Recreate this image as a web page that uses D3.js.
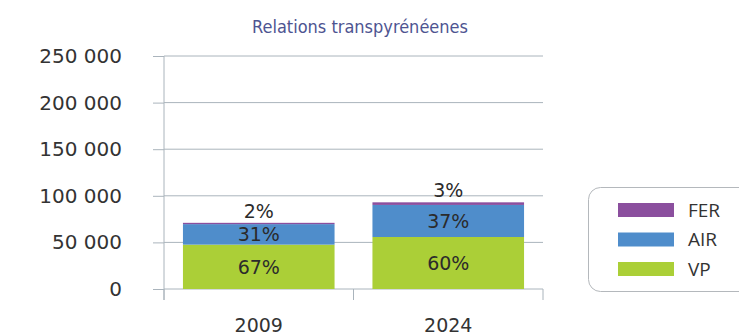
<!DOCTYPE html>
<html>
<head>
<meta charset="utf-8">
<script src="https://cdn.jsdelivr.net/npm/d3@7"></script>
<style>
  html, body { margin: 0; padding: 0; background: #fff; }
  svg { display: block; }
</style>
</head>
<body>
<svg id="chart" width="739" height="336"></svg>
<script>
// Passenger flows across the Pyrenees, by mode
const years = ["2009", "2024"];
const modes = ["VP", "AIR", "FER"];
const vpValues = [47600, 55800];
const airValues = [22000, 34400];
const ferValues = [1400, 2800];
const yTicks = [0, 50000, 100000, 150000, 200000, 250000];
const modeColors = { VP: "#abcf37", AIR: "#4f8dcb", FER: "#8b4f9e" };
const legendOrder = ["FER", "AIR", "VP"];
const title = "Relations transpyrénéenes";

const rows = years.map((yr, i) => ({ year: yr, VP: vpValues[i], AIR: airValues[i], FER: ferValues[i] }));

const svg = d3.select("#chart");
const plotLeft = 164, plotRight = 543, plotTop = 56, plotBottom = 289;

const x = d3.scaleBand().domain(years).range([plotLeft, plotRight]).paddingInner(0.2).paddingOuter(0.1);
const y = d3.scaleLinear().domain([0, 250000]).range([plotBottom, plotTop]);

const fmt = d3.formatLocale({ decimal: ",", thousands: " ", grouping: [3], currency: ["", " €"] }).format(",d");

// title
svg.append("text")
  .attr("x", 360).attr("y", 33)
  .attr("text-anchor", "middle")
  .attr("font-family", "'DejaVu Sans Condensed', 'DejaVu Sans'")
  .attr("font-stretch", "condensed")
  .attr("font-size", 18)
  .attr("fill", "#4e5491")
  .text(title);

const gridColor = "#aab4bc";

// horizontal gridlines
svg.append("g").selectAll("line").data(yTicks).join("line")
  .attr("x1", plotLeft).attr("x2", plotRight)
  .attr("y1", d => y(d)).attr("y2", d => y(d))
  .attr("stroke", gridColor).attr("stroke-width", 1);

// y axis
const yAxis = svg.append("g")
  .attr("transform", `translate(${plotLeft},0)`)
  .call(d3.axisLeft(y).tickValues(yTicks).tickSize(11).tickPadding(31).tickFormat(fmt));
yAxis.select(".domain").remove();
yAxis.selectAll(".tick line").attr("stroke", gridColor);
yAxis.selectAll(".tick text")
  .attr("font-family", "'DejaVu Sans'")
  .attr("font-size", 20)
  .attr("fill", "#333");
svg.append("line")
  .attr("x1", plotLeft).attr("x2", plotLeft).attr("y1", plotTop).attr("y2", plotBottom + 11)
  .attr("stroke", gridColor);

// x axis tick marks at band boundaries
const bounds = [plotLeft, ...years.slice(0, -1).map(d => x(d) + x.bandwidth() + x.step() * x.paddingInner() / 2), plotRight];
svg.append("g").selectAll("line").data(bounds).join("line")
  .attr("x1", d => d).attr("x2", d => d)
  .attr("y1", plotBottom).attr("y2", plotBottom + 11)
  .attr("stroke", gridColor);

// x labels
svg.append("g").selectAll("text").data(years).join("text")
  .attr("x", d => x(d) + x.bandwidth() / 2)
  .attr("y", 332)
  .attr("text-anchor", "middle")
  .attr("font-family", "'DejaVu Sans'")
  .attr("font-size", 19)
  .attr("fill", "#333")
  .text(d => d);

// stacked bars
const series = d3.stack().keys(modes)(rows);
svg.append("g").selectAll("g").data(series).join("g")
  .attr("fill", d => modeColors[d.key])
  .selectAll("rect").data(d => d).join("rect")
  .attr("x", d => x(d.data.year))
  .attr("width", x.bandwidth())
  .attr("y", d => y(d[1]))
  .attr("height", d => y(d[0]) - y(d[1]));

// percentage labels
const labels = [];
series.forEach(s => s.forEach(d => {
  const total = d.data.VP + d.data.AIR + d.data.FER;
  const pct = Math.round((d[1] - d[0]) / total * 100) + "%";
  const cy = s.key === "FER" ? y(d[1]) - 12 : (y(d[0]) + y(d[1])) / 2;
  labels.push({ x: x(d.data.year) + x.bandwidth() / 2, y: cy, text: pct });
}));
svg.append("g").selectAll("text").data(labels).join("text")
  .attr("x", d => d.x).attr("y", d => d.y)
  .attr("dy", "0.36em")
  .attr("text-anchor", "middle")
  .attr("font-family", "'DejaVu Sans'")
  .attr("font-size", 19)
  .attr("fill", "#2b2b2b")
  .text(d => d.text);

// legend
const lg = svg.append("g");
lg.append("rect")
  .attr("x", 588.5).attr("y", 187.5).attr("width", 170).attr("height", 104)
  .attr("rx", 12).attr("ry", 12)
  .attr("fill", "#fff").attr("stroke", "#b4b8bc");
const ly = d3.scalePoint().domain(legendOrder).range([210, 269]);
lg.selectAll("rect.sw").data(legendOrder).join("rect")
  .attr("class", "sw")
  .attr("x", 618).attr("width", 56)
  .attr("y", d => ly(d) - 7).attr("height", 14)
  .attr("fill", d => modeColors[d]);
lg.selectAll("text").data(legendOrder).join("text")
  .attr("x", 688).attr("y", d => ly(d))
  .attr("dy", "0.36em")
  .attr("font-family", "'Open Sans'")
  .attr("font-size", 19)
  .attr("fill", "#333")
  .text(d => d);
</script>
</body>
</html>
